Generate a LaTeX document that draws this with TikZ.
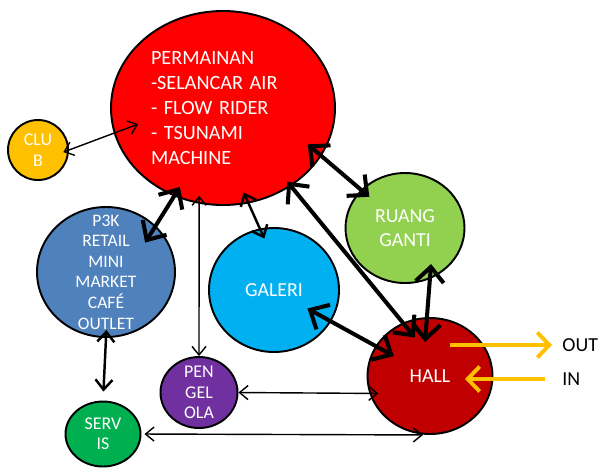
\documentclass[tikz,border=0pt]{standalone}
\usepackage{fontspec}
\setmainfont{Carlito}
\definecolor{bbred}{RGB}{255,0,0}
\definecolor{bbgold}{RGB}{255,192,0}
\definecolor{bbsteel}{RGB}{79,129,189}
\definecolor{bbsky}{RGB}{0,176,240}
\definecolor{bblime}{RGB}{146,208,80}
\definecolor{bbmaroon}{RGB}{192,0,0}
\definecolor{bbpurple}{RGB}{112,48,160}
\definecolor{bbgreen}{RGB}{0,176,80}
\usetikzlibrary{arrows.meta,shapes.geometric}

\begin{document}
\begin{tikzpicture}[
  bub/.style={draw=black,line width=1.1pt,ellipse,inner sep=0pt,align=center,text=white,font=\fontsize{11.3}{13.6}\selectfont},
  small/.style={font=\fontsize{10.2}{11.6}\selectfont},
  thinarr/.style={<->,>={Straight Barb[length=1.7mm,width=2.8mm]},line width=0.8pt},
  midarr/.style={<->,>={Straight Barb[length=2mm,width=3.4mm]},line width=1.4pt},
  fatarr/.style={<->,>={Straight Barb[length=3mm,width=5.6mm]},line width=2.3pt},
  io/.style={->,>={Straight Barb[length=2.4mm,width=5mm]},line width=2.2pt,bbgold},
  iolbl/.style={anchor=west,inner sep=0pt,font=\fontsize{11.3}{13}\selectfont}]
\useasboundingbox (0,0) rectangle (11.96,-9.4);
% bubbles
\node[bub,fill=bbred,minimum width=4.48cm,minimum height=3.88cm,text width=2.88cm,align=left,font=\fontsize{11.5}{14.2}\selectfont] (perm) at (4.46,-2.16) {PERMAINAN\\-SELANCAR AIR\\- FLOW RIDER\\- TSUNAMI\\MACHINE};
\node[bub,small,fill=bbgold,minimum width=1.2cm,minimum height=1.2cm] (club) at (0.76,-3.0) {CLU\\B};
\node[bub,fill=bbsteel,minimum width=2.76cm,minimum height=2.6cm,inner ysep=-0.25cm,font=\fontsize{10}{11.7}\selectfont] (p3k) at (2.12,-5.44) {P3K\\RETAIL\\MINI\\MARKET\\CAFÉ\\OUTLET};
\node[bub,fill=bbsky,minimum width=2.6cm,minimum height=2.48cm] (galeri) at (5.48,-5.8) {GALERI};
\node[bub,fill=bblime,minimum width=2.38cm,minimum height=2.2cm] (ruang) at (8.1,-4.56) {RUANG\\GANTI};
\node[bub,fill=bbmaroon,minimum width=2.5cm,minimum height=2.32cm] (hall) at (8.6,-7.52) {HALL};
\node[bub,small,fill=bbpurple,minimum width=1.54cm,minimum height=1.42cm,inner ysep=-2pt] (peng) at (3.98,-7.85) {PEN\\GEL\\OLA};
\node[bub,small,fill=bbgreen,minimum width=1.5cm,minimum height=1.3cm] (servis) at (2.06,-8.68) {SERV\\IS};
% in / out
\node[iolbl] (outlbl) at (11.24,-6.9) {OUT};
\node[iolbl] (inlbl) at (11.24,-7.58) {IN};
% links
\foreach \from/\to/\a/\b in {club.0/perm.193/-0.12cm/-0.52cm,perm.256/peng.north/-0.16cm/0cm,peng.east/hall.196/0cm/-0.18cm,servis.east/hall.south/0.06cm/0.14cm}{
  \draw[thinarr,shorten <=\a,shorten >=\b] (\from) -- (\to);}
\foreach \from/\to/\a/\b in {perm.285/galeri.103/-0.24cm/-0.22cm,p3k.south/servis.north/-0.16cm/0.18cm}{
  \draw[midarr,shorten <=\a,shorten >=\b] (\from) -- (\to);}
\foreach \from/\to/\a/\b in {perm.241/p3k.43/-0.22cm/-0.4cm,perm.311/hall.117/-0.12cm/-0.38cm,perm.334/ruang.139/-0.36cm/-0.22cm,galeri/hall/-0.54cm/-0.42cm,ruang.296/hall.93/-0.3cm/-0.5cm}{
  \draw[fatarr,shorten <=\a,shorten >=\b] (\from) -- (\to);}
\draw[io,shorten >=0.2cm] ([shift={(0.4,0.62)}]hall.center) -- (outlbl.west);
\draw[io,shorten <=0.34cm] (inlbl.west) -- ([shift={(0.7,-0.06)}]hall.center);
\end{tikzpicture}
\end{document}
